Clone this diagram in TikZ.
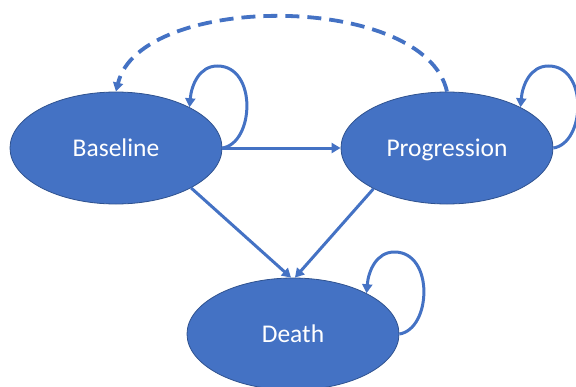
\documentclass[tikz,border=0pt]{standalone}
\usepackage{fontspec}
\setmainfont{Carlito}
\usetikzlibrary{shapes.geometric,arrows.meta,calc}
\definecolor{obl}{HTML}{4472C4}
\definecolor{obd}{HTML}{2F528F}
\begin{document}
\begin{tikzpicture}[x=1pt,y=-1pt,
  state/.style={ellipse,fill=obl,draw=obd,line width=0.8pt,minimum width=212pt,minimum height=112pt,inner sep=0pt,text=white,text height=16.5pt,text depth=0pt,font=\fontsize{25.5}{30}\selectfont},
  conn/.style={draw=obl,line width=3pt,-{Triangle[length=9pt,width=10pt]}},
  dashconn/.style={conn,line width=3.8pt,dash pattern=on 14pt off 8pt}]
\useasboundingbox (0,0) rectangle (576,386);
\clip (0,0) rectangle (576,386);
\node[state] (base) at (116,148) {Baseline};
\node[state] (prog) at (447,148) {Progression};
\node[state] (death) at (293,334) {Death};
\draw[conn] (base.east) -- (prog.west);
\draw[conn] (base.-28) -- (death.92);
\draw[conn] (prog.209) -- (death.88);
\draw[dashconn] (prog.north) .. controls (425,-8) and (140,-8) .. (base.north);
\foreach \n in {base,prog,death}{
  \draw[conn] (\n.east) .. controls ($(\n.east)+(32,-5)$) and ($(\n.east)+(35,-82)$) .. ($(\n.east)+(-5,-82)$)
     .. controls ($(\n.east)+(-23,-82)$) and ($(\n.east)+(-31,-63)$) .. (\n.29);
}
\end{tikzpicture}
\end{document}
